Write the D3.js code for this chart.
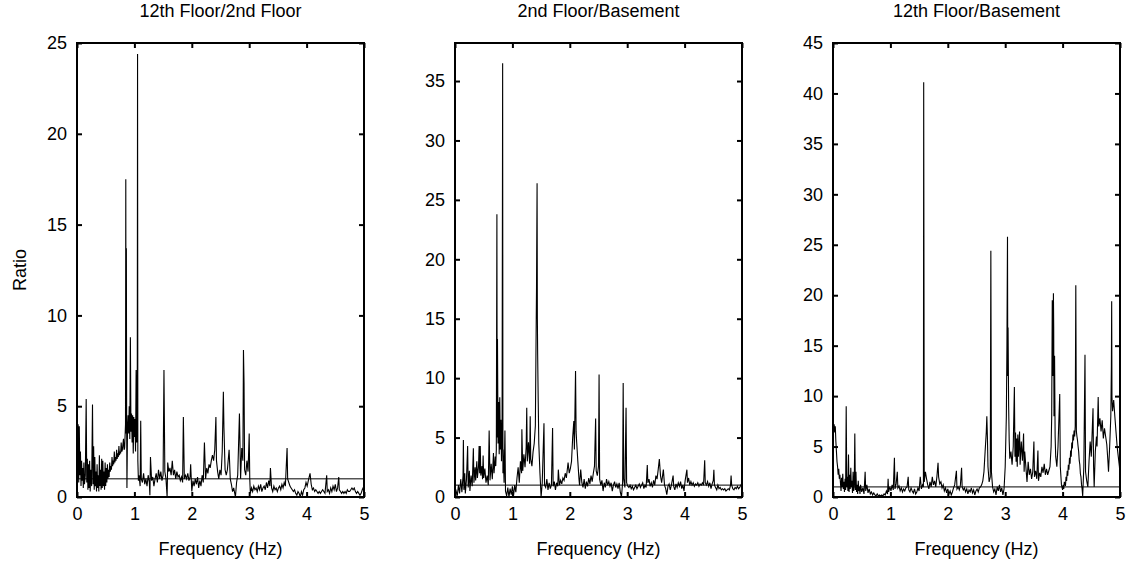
<!DOCTYPE html>
<html>
<head>
<meta charset="utf-8">
<script src="https://cdn.jsdelivr.net/npm/d3@7"></script>
<style>
  body { margin: 0; background: #fff; }
  svg text { font-family: "Liberation Sans", Arial, sans-serif; fill: #000; }
</style>
</head>
<body>
<svg id="chart" width="1128" height="563"></svg>
<script>
// 12th Floor / 2nd Floor  [frequency Hz, ratio]
const ratio12th2nd = [
  [0,4.2],[0.01,1.0],[0.02,4.0],[0.03,0.8],[0.04,3.9],[0.05,1.2],[0.06,2.5],[0.07,0.6],[0.08,2.0],[0.09,0.9],
  [0.10,1.6],[0.11,0.5],[0.12,1.9],[0.13,0.7],[0.145,1.2],[0.16,5.4],[0.17,0.8],[0.18,2.1],[0.19,0.4],[0.20,1.8],
  [0.21,0.5],[0.22,2.0],[0.23,0.3],[0.24,1.5],[0.255,0.6],[0.27,5.1],[0.28,0.7],[0.29,2.8],[0.30,0.4],[0.31,2.2],
  [0.32,0.6],[0.33,1.4],[0.34,0.3],[0.35,1.8],[0.36,0.5],[0.37,1.2],[0.38,0.3],[0.39,2.3],[0.40,0.6],[0.41,1.5],
  [0.42,0.4],[0.43,2.1],[0.44,0.5],[0.45,2.0],[0.46,0.6],[0.47,1.4],[0.48,0.4],[0.49,1.9],[0.50,0.6],[0.51,1.6],
  [0.52,0.8],[0.53,1.8],[0.54,1.0],[0.55,1.5],[0.56,1.1],[0.57,1.9],[0.58,1.4],[0.59,1.7],[0.60,1.5],[0.61,2.2],
  [0.62,1.7],[0.63,2.0],[0.64,1.8],[0.65,2.5],[0.66,1.9],[0.67,2.2],[0.68,2.0],[0.69,2.6],[0.70,2.1],[0.71,2.4],
  [0.72,2.2],[0.73,2.8],[0.74,2.3],[0.75,2.5],[0.76,2.4],[0.77,3.0],[0.78,2.5],[0.79,2.6],[0.80,2.9],[0.81,3.2],
  [0.82,2.6],[0.83,2.7],[0.845,4.0],[0.85,17.5],[0.855,3.5],
  [0.86,13.7],[0.865,4.2],[0.87,0.5],[0.88,3.8],[0.89,4.5],[0.90,3.5],[0.91,5.0],[0.92,3.2],[0.93,8.8],[0.94,3.6],
  [0.95,4.6],[0.96,3.0],[0.97,4.5],[0.98,2.4],[0.99,4.4],[1.00,3.3],[1.01,4.3],[1.02,2.5],[1.03,7.0],[1.04,3.0],
  [1.05,5.5],[1.055,24.4],[1.06,2.0],[1.07,0.9],[1.08,1.2],[1.10,0.6],[1.11,4.2],[1.12,1.0],[1.14,0.8],[1.16,1.3],
  [1.18,0.7],[1.20,1.0],[1.22,0.6],[1.24,1.2],[1.26,0.8],[1.27,0.1],[1.28,2.2],[1.30,0.9],[1.32,1.1],[1.34,0.6],
  [1.36,1.0],[1.38,1.3],[1.40,0.8],[1.42,1.5],[1.44,1.0],[1.46,1.4],[1.48,0.9],[1.50,1.2],[1.515,7.0],[1.53,1.4],
  [1.55,1.0],[1.57,0.0],[1.58,1.9],[1.60,1.4],[1.62,1.6],[1.64,1.2],[1.66,2.0],[1.68,1.2],[1.70,1.5],[1.72,1.0],
  [1.74,1.4],[1.76,1.1],[1.78,1.2],[1.80,0.9],[1.82,1.1],[1.84,0.8],[1.853,4.4],[1.87,1.0],[1.89,1.2],[1.91,1.0],
  [1.93,1.3],[1.95,0.9],[1.97,1.1],[1.98,1.8],[2.00,0.3],[2.02,0.9],[2.04,0.6],[2.06,1.0],[2.08,0.7],[2.10,1.1],
  [2.12,0.5],[2.14,0.9],[2.16,0.6],[2.18,1.2],[2.20,0.8],[2.22,3.0],[2.24,1.0],[2.26,1.6],[2.28,1.3],[2.30,1.8],
  [2.32,1.6],[2.34,2.0],[2.36,2.3],[2.38,2.0],[2.40,2.6],[2.42,4.4],[2.43,2.0],[2.45,1.4],[2.47,1.0],[2.49,1.5],
  [2.51,1.2],[2.53,2.5],[2.55,5.8],[2.56,3.8],[2.58,1.5],[2.60,1.2],[2.62,1.5],[2.65,2.6],[2.67,1.0],[2.69,0.7],
  [2.71,0.3],[2.73,0.5],[2.76,0.0],[2.78,0.8],[2.80,1.2],[2.83,4.6],[2.85,1.0],[2.87,2.7],[2.89,2.0],[2.90,8.1],
  [2.91,6.3],[2.92,1.5],[2.94,1.2],[2.96,2.0],[2.98,1.4],[3.00,3.5],[3.01,1.0],[3.02,0.2],[3.04,0.5],[3.06,0.3],
  [3.08,0.6],[3.10,0.4],[3.12,0.5],[3.14,0.3],[3.16,0.6],[3.18,0.4],[3.20,0.7],[3.22,0.3],[3.24,0.5],[3.26,0.6],
  [3.28,0.4],[3.30,0.8],[3.32,0.5],[3.34,0.9],[3.36,0.6],[3.37,1.6],[3.39,0.5],[3.41,0.3],[3.43,0.6],[3.45,0.4],
  [3.47,0.5],[3.49,0.3],[3.51,0.5],[3.53,0.6],[3.55,0.4],[3.57,0.7],[3.59,0.5],[3.61,0.8],[3.63,0.6],[3.66,2.7],
  [3.67,1.0],[3.69,0.8],[3.71,0.6],[3.73,0.5],[3.75,0.4],[3.77,0.3],[3.79,0.4],[3.81,0.2],[3.83,0.1],[3.85,0.3],
  [3.87,0.2],[3.89,0.0],[3.91,0.3],[3.93,0.1],[3.95,0.4],[3.97,0.5],[3.99,0.8],[4.01,0.6],[4.03,0.9],[4.06,1.3],
  [4.08,0.7],[4.10,0.4],[4.12,0.5],[4.14,0.3],[4.16,0.4],[4.18,0.3],[4.20,0.2],[4.22,0.3],[4.24,0.2],[4.26,0.3],
  [4.28,0.4],[4.30,0.3],[4.32,0.2],[4.35,1.2],[4.36,0.3],[4.38,0.4],[4.40,0.2],[4.42,0.5],[4.44,0.3],[4.46,0.6],
  [4.48,0.4],[4.50,0.7],[4.52,0.3],[4.54,0.5],[4.56,1.1],[4.57,0.4],[4.59,0.3],[4.61,0.2],[4.63,0.3],[4.65,0.2],
  [4.67,0.3],[4.69,0.2],[4.71,0.4],[4.73,0.3],[4.75,0.3],[4.77,0.4],[4.79,0.5],[4.81,0.4],[4.83,0.5],[4.85,0.3],
  [4.87,0.2],[4.89,0.3],[4.91,0.2],[4.93,0.1],[4.95,0.2],[4.97,0.4],[5.00,0.6]
];

// 2nd Floor / Basement
const ratio2ndBase = [
  [0,0.2],[0.02,0.5],[0.04,0.1],[0.06,1.0],[0.08,0.3],[0.10,1.5],[0.12,0.4],[0.14,1.8],[0.146,4.8],[0.155,0.6],
  [0.17,2.0],[0.18,0.3],[0.20,1.5],[0.22,4.3],[0.23,0.8],[0.25,2.2],[0.26,0.5],[0.28,1.8],[0.30,0.9],[0.32,4.1],
  [0.33,1.2],[0.35,2.5],[0.36,1.4],[0.38,3.0],[0.39,1.6],[0.41,2.6],[0.42,4.3],[0.43,2.0],[0.44,4.3],[0.45,1.8],
  [0.47,2.6],[0.48,1.5],[0.49,3.5],[0.50,1.6],[0.52,2.4],[0.54,1.2],[0.56,1.8],[0.58,1.0],[0.595,5.6],[0.61,1.4],
  [0.63,2.8],[0.65,1.5],[0.67,3.7],[0.68,2.0],[0.70,3.4],[0.71,2.6],[0.72,4.0],[0.73,23.8],[0.735,5.0],[0.74,13.3],
  [0.75,4.5],[0.76,8.0],[0.77,3.6],[0.78,8.4],[0.79,4.0],[0.80,6.5],[0.81,3.0],[0.82,5.0],[0.83,36.5],[0.835,2.0],
  [0.84,4.0],[0.855,1.2],[0.87,5.6],[0.88,0.5],[0.90,0.1],[0.92,0.8],[0.94,0.0],[0.96,0.7],[0.98,0.2],[1.00,0.9],
  [1.02,0.1],[1.04,1.0],[1.06,0.4],[1.08,1.6],[1.10,2.5],[1.12,1.2],[1.14,3.0],[1.16,2.0],[1.165,5.7],[1.18,2.2],
  [1.20,3.6],[1.22,2.5],[1.24,4.2],[1.25,7.5],[1.26,3.0],[1.28,4.6],[1.30,2.8],[1.31,6.8],[1.32,3.2],[1.34,2.6],
  [1.36,3.8],[1.38,4.5],[1.40,6.0],[1.41,12.0],[1.42,17.5],[1.43,26.4],[1.435,15.0],[1.44,12.0],[1.45,8.0],[1.46,4.5],
  [1.48,2.0],[1.50,0.0],[1.52,1.2],[1.55,6.2],[1.56,1.0],[1.58,0.8],[1.60,1.5],[1.62,0.6],[1.64,1.2],[1.66,0.7],
  [1.68,1.0],[1.70,5.8],[1.71,0.9],[1.73,1.3],[1.75,0.6],[1.77,1.2],[1.79,0.9],[1.80,2.3],[1.82,1.0],[1.84,1.4],
  [1.86,1.1],[1.88,1.6],[1.90,1.4],[1.92,2.0],[1.94,1.6],[1.97,2.9],[1.99,2.0],[2.01,2.4],[2.03,3.0],[2.05,5.0],
  [2.07,6.4],[2.08,4.0],[2.10,10.6],[2.11,5.5],[2.12,4.6],[2.14,3.0],[2.16,1.5],[2.17,1.0],[2.19,2.3],[2.21,1.2],
  [2.23,0.8],[2.25,1.5],[2.27,0.7],[2.29,1.3],[2.31,0.9],[2.33,1.6],[2.35,1.1],[2.37,1.8],[2.39,1.3],[2.41,2.0],
  [2.43,2.6],[2.45,6.6],[2.46,2.2],[2.48,1.8],[2.50,2.6],[2.51,10.3],[2.52,1.5],[2.54,1.0],[2.56,1.4],[2.58,0.5],
  [2.60,1.2],[2.62,0.8],[2.64,1.5],[2.66,1.0],[2.68,1.3],[2.70,0.9],[2.72,1.2],[2.74,0.5],[2.76,1.0],[2.78,1.3],
  [2.80,0.8],[2.82,1.1],[2.84,0.7],[2.86,1.2],[2.88,0.4],[2.90,0.0],[2.92,1.2],[2.93,9.6],[2.94,1.5],[2.96,0.8],
  [2.98,7.5],[2.99,1.2],[3.01,0.9],[3.03,0.8],[3.05,1.0],[3.07,0.7],[3.09,0.9],[3.11,0.6],[3.13,0.8],[3.15,1.0],
  [3.17,0.7],[3.19,0.9],[3.21,1.1],[3.23,0.8],[3.25,1.0],[3.27,1.2],[3.29,0.7],[3.31,1.0],[3.33,0.8],[3.35,2.7],
  [3.36,1.2],[3.38,1.5],[3.40,0.9],[3.42,1.2],[3.44,0.8],[3.46,1.4],[3.48,1.0],[3.50,1.8],[3.52,1.5],[3.54,2.3],
  [3.56,3.2],[3.58,1.8],[3.60,1.2],[3.63,2.3],[3.65,1.0],[3.67,0.7],[3.69,0.2],[3.71,0.9],[3.73,1.1],[3.75,0.6],
  [3.77,1.0],[3.80,1.8],[3.81,0.9],[3.83,0.6],[3.85,1.1],[3.87,0.8],[3.89,1.2],[3.91,0.9],[3.93,1.3],[3.95,0.7],
  [3.97,1.0],[3.99,0.5],[4.01,1.4],[4.04,2.3],[4.05,1.2],[4.07,1.6],[4.09,1.0],[4.11,1.3],[4.13,1.0],[4.15,1.2],
  [4.17,0.9],[4.19,1.1],[4.21,1.0],[4.23,1.2],[4.25,0.9],[4.27,1.1],[4.29,1.0],[4.31,1.2],[4.33,1.0],[4.35,3.1],
  [4.36,1.2],[4.38,1.0],[4.40,1.3],[4.42,0.9],[4.44,1.2],[4.46,0.7],[4.48,1.1],[4.50,1.4],[4.51,2.3],[4.52,1.0],
  [4.54,0.8],[4.56,0.6],[4.58,1.0],[4.60,0.7],[4.62,0.8],[4.64,0.6],[4.66,0.7],[4.68,0.6],[4.70,0.7],[4.72,0.5],
  [4.74,0.6],[4.76,0.7],[4.78,0.6],[4.80,1.0],[4.81,1.8],[4.82,1.0],[4.84,0.7],[4.86,0.6],[4.88,0.8],[4.90,0.7],
  [4.92,0.9],[4.94,0.7],[4.96,0.8],[4.98,1.0],[5.00,1.2]
];

// 12th Floor / Basement
const ratio12thBase = [
  [0,7.5],[0.01,6.5],[0.02,7.2],[0.03,6.4],[0.04,7.0],[0.05,5.5],[0.06,4.5],[0.07,3.5],[0.08,3.0],[0.09,2.2],
  [0.10,2.8],[0.11,1.8],[0.12,2.2],[0.13,1.4],[0.14,0.6],[0.15,1.9],[0.16,1.0],[0.17,2.3],[0.18,0.8],[0.19,1.5],
  [0.20,0.5],[0.21,1.8],[0.22,0.7],[0.23,9.0],[0.24,1.0],[0.25,2.0],[0.26,0.6],[0.27,4.2],[0.28,0.5],[0.29,2.2],
  [0.30,0.8],[0.31,2.9],[0.32,1.0],[0.33,1.6],[0.34,0.4],[0.35,2.5],[0.36,0.6],[0.37,1.2],[0.38,6.3],[0.39,0.7],
  [0.40,2.5],[0.41,0.5],[0.42,1.2],[0.43,0.3],[0.44,1.6],[0.45,0.6],[0.46,1.0],[0.47,0.3],[0.48,1.2],[0.50,0.5],
  [0.52,0.9],[0.54,0.3],[0.56,2.5],[0.57,0.6],[0.59,1.2],[0.61,0.4],[0.63,0.8],[0.65,0.3],[0.67,0.5],[0.69,0.2],
  [0.71,0.4],[0.73,0.2],[0.75,0.1],[0.77,0.3],[0.79,0.1],[0.81,0.2],[0.83,0.1],[0.85,0.2],[0.87,0.1],[0.89,0.3],
  [0.91,0.2],[0.93,0.6],[0.95,0.3],[0.96,1.8],[0.97,0.5],[0.99,1.0],[1.01,0.6],[1.03,1.2],[1.05,0.7],[1.07,3.9],
  [1.08,0.8],[1.10,1.3],[1.12,2.5],[1.13,0.9],[1.15,1.1],[1.17,0.6],[1.19,0.9],[1.21,0.5],[1.23,0.8],[1.25,0.6],
  [1.27,0.9],[1.29,1.0],[1.31,2.0],[1.32,0.7],[1.34,0.5],[1.36,0.9],[1.38,0.6],[1.40,0.4],[1.42,0.8],[1.44,0.3],
  [1.46,0.5],[1.48,0.9],[1.50,0.6],[1.52,2.0],[1.54,0.8],[1.56,1.2],[1.575,1.0],[1.58,41.1],[1.59,1.5],[1.61,2.5],
  [1.63,1.8],[1.65,1.2],[1.67,0.8],[1.69,1.5],[1.71,1.0],[1.73,2.0],[1.75,1.2],[1.77,1.6],[1.79,1.0],[1.81,2.0],
  [1.83,3.4],[1.84,2.0],[1.86,1.3],[1.88,1.5],[1.90,0.9],[1.92,1.2],[1.94,0.6],[1.96,0.9],[1.98,0.4],[2.00,0.8],
  [2.02,0.3],[2.04,0.6],[2.06,0.2],[2.08,0.5],[2.10,0.9],[2.12,1.2],[2.15,2.6],[2.16,0.8],[2.18,1.0],[2.20,0.7],
  [2.22,1.2],[2.24,2.9],[2.25,1.0],[2.27,0.7],[2.29,0.9],[2.31,0.5],[2.33,0.8],[2.35,0.3],[2.37,0.7],[2.39,0.5],
  [2.41,0.9],[2.43,0.4],[2.45,0.7],[2.47,0.2],[2.49,0.6],[2.51,0.8],[2.53,0.5],[2.55,0.9],[2.57,1.0],[2.59,1.2],
  [2.61,1.6],[2.63,2.5],[2.65,4.5],[2.67,6.4],[2.68,8.0],[2.69,6.0],[2.70,3.0],[2.72,1.5],[2.74,2.0],[2.75,24.4],
  [2.76,2.5],[2.78,1.0],[2.80,0.5],[2.82,0.8],[2.84,0.2],[2.86,1.0],[2.88,0.6],[2.90,1.2],[2.92,0.5],[2.94,0.9],
  [2.96,0.2],[2.98,0.8],[3.00,3.0],[3.02,8.0],[3.03,15.0],[3.04,25.8],[3.045,12.0],[3.05,16.8],[3.06,9.0],[3.07,5.5],
  [3.08,3.8],[3.10,4.5],[3.12,3.2],[3.14,5.0],[3.16,10.9],[3.17,4.0],[3.18,6.4],[3.19,3.5],[3.20,5.8],[3.21,3.0],
  [3.22,6.2],[3.23,4.0],[3.25,6.5],[3.26,3.2],[3.28,5.5],[3.30,3.6],[3.32,6.3],[3.33,2.5],[3.34,4.5],[3.36,3.0],
  [3.38,1.5],[3.40,3.5],[3.42,2.2],[3.44,2.8],[3.46,1.8],[3.48,2.5],[3.50,5.5],[3.51,2.0],[3.53,2.6],[3.55,1.8],
  [3.57,4.6],[3.58,1.6],[3.60,2.4],[3.62,2.0],[3.64,3.0],[3.66,2.4],[3.68,3.3],[3.70,2.2],[3.72,2.8],[3.74,2.2],
  [3.76,2.6],[3.78,3.0],[3.80,5.0],[3.81,8.0],[3.82,19.5],[3.83,12.0],[3.84,20.2],[3.845,16.8],[3.85,8.0],[3.86,14.0],
  [3.87,6.0],[3.88,4.0],[3.90,3.0],[3.92,5.0],[3.95,10.2],[3.96,3.0],[3.98,1.2],[4.00,0.7],[4.01,1.2],[4.02,0.8],
  [4.03,1.5],[4.05,1.1],[4.06,2.0],[4.07,1.6],[4.08,2.6],[4.09,2.1],[4.10,3.2],[4.11,2.7],[4.12,3.9],[4.13,3.3],
  [4.14,4.6],[4.15,4.0],[4.16,5.4],[4.17,4.8],[4.18,6.2],[4.19,5.6],[4.20,6.6],[4.21,6.0],[4.22,7.0],[4.23,21.0],
  [4.24,6.5],[4.25,6.0],[4.26,5.6],[4.27,5.0],[4.28,4.5],[4.29,3.6],[4.30,3.2],[4.31,2.3],[4.32,2.0],[4.33,1.2],
  [4.34,0.8],[4.35,0.1],[4.37,3.0],[4.39,14.1],[4.40,2.5],
  [4.42,1.6],[4.44,1.0],[4.46,3.5],[4.48,5.5],[4.50,4.0],[4.53,8.8],[4.54,3.0],[4.55,1.0],[4.57,4.5],[4.59,6.0],
  [4.60,5.0],[4.62,9.9],[4.63,7.0],[4.65,7.8],[4.67,6.5],[4.69,7.6],[4.71,5.8],[4.73,6.8],[4.75,6.0],[4.77,5.2],
  [4.79,3.5],[4.80,2.5],[4.82,5.0],[4.84,8.0],[4.85,13.0],[4.855,19.4],[4.86,9.9],[4.87,8.5],[4.89,9.6],[4.91,8.0],
  [4.93,6.5],[4.95,5.0],[4.97,4.0],[4.99,3.0],[5.00,2.0]
];

const panelTitles = ['12th Floor/2nd Floor', '2nd Floor/Basement', '12th Floor/Basement'];
const panelSeries = [ratio12th2nd, ratio2ndBase, ratio12thBase];
const panelYMax = [25, 38.2, 45];
const yTickSets = [
  [0, 5, 10, 15, 20, 25],
  [0, 5, 10, 15, 20, 25, 30, 35],
  [0, 5, 10, 15, 20, 25, 30, 35, 40, 45]
];
const xTicks = [0, 1, 2, 3, 4, 5];
const referenceLevel = 1;

const svg = d3.select('#chart');
const panelLeft = [77, 455, 833];
const panelW = 287;
const plotTop = 43;
const plotBottom = 497;
const tickLen = 5;
const fontPx = 18;

panelSeries.forEach((series, i) => {
  const x = d3.scaleLinear().domain([0, 5]).range([panelLeft[i], panelLeft[i] + panelW]);
  const y = d3.scaleLinear().domain([0, panelYMax[i]]).range([plotBottom, plotTop]);
  const g = svg.append('g');

  const clipId = 'clip' + i;
  svg.append('clipPath').attr('id', clipId)
    .append('rect')
    .attr('x', x(0)).attr('y', y(panelYMax[i]))
    .attr('width', x(5) - x(0)).attr('height', y(0) - y(panelYMax[i]));

  const plot = g.append('g').attr('clip-path', `url(#${clipId})`);

  // reference line at ratio = 1
  plot.append('line')
    .attr('x1', x(0)).attr('x2', x(5))
    .attr('y1', y(referenceLevel)).attr('y2', y(referenceLevel))
    .attr('stroke', '#000').attr('stroke-width', 1);

  const line = d3.line().x(d => x(d[0])).y(d => y(d[1]));
  plot.append('path')
    .datum(series)
    .attr('d', line)
    .attr('fill', 'none')
    .attr('stroke', '#000')
    .attr('stroke-width', 1.1)
    .attr('stroke-linejoin', 'miter');

  // axes: bottom/left with labels, top/right ticks only (MATLAB box style)
  const axB = g.append('g').attr('transform', `translate(0,${plotBottom})`)
    .call(d3.axisBottom(x).tickValues(xTicks).tickSize(-tickLen).tickPadding(10).tickFormat(d3.format('d')));
  const axT = g.append('g').attr('transform', `translate(0,${plotTop})`)
    .call(d3.axisTop(x).tickValues(xTicks).tickSize(-tickLen).tickFormat(''));
  const axL = g.append('g').attr('transform', `translate(${x(0)},0)`)
    .call(d3.axisLeft(y).tickValues(yTickSets[i]).tickSize(-tickLen).tickPadding(10).tickFormat(d3.format('d')));
  const axR = g.append('g').attr('transform', `translate(${x(5)},0)`)
    .call(d3.axisRight(y).tickValues(yTickSets[i]).tickSize(-tickLen).tickFormat(''));

  [axB, axT, axL, axR].forEach(a => {
    a.select('.domain').remove();
    a.selectAll('.tick line').attr('stroke', '#000').attr('stroke-width', 2);
    a.selectAll('text').attr('font-size', fontPx).attr('font-family', '"Liberation Sans", Arial, sans-serif');
  });

  g.append('rect')
    .attr('x', x(0)).attr('y', y(panelYMax[i]))
    .attr('width', x(5) - x(0)).attr('height', y(0) - y(panelYMax[i]))
    .attr('fill', 'none').attr('stroke', '#000').attr('stroke-width', 2);

  g.append('text')
    .attr('x', (x(0) + x(5)) / 2).attr('y', 17)
    .attr('text-anchor', 'middle').attr('font-size', fontPx)
    .text(panelTitles[i]);

  g.append('text')
    .attr('x', (x(0) + x(5)) / 2).attr('y', 555)
    .attr('text-anchor', 'middle').attr('font-size', fontPx)
    .text('Frequency (Hz)');
});

svg.append('text')
  .attr('transform', 'translate(26,270) rotate(-90)')
  .attr('text-anchor', 'middle').attr('font-size', fontPx)
  .text('Ratio');
</script>
</body>
</html>
